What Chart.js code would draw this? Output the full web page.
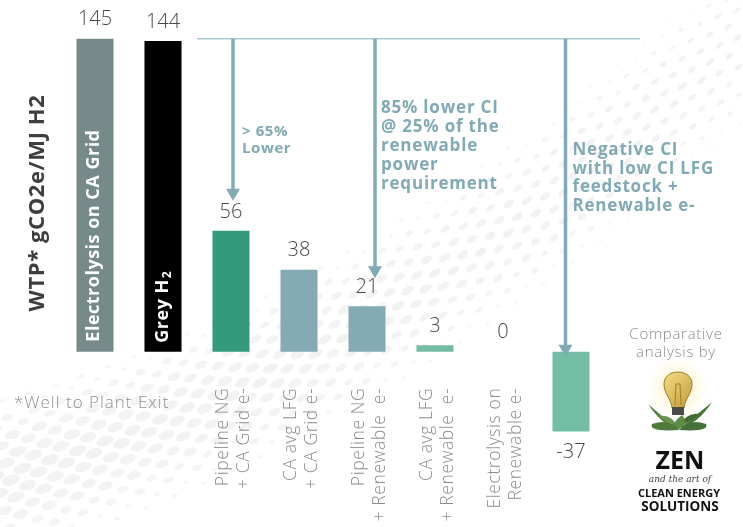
<!DOCTYPE html>
<html><head><meta charset="utf-8">
<script src="https://cdn.jsdelivr.net/npm/chart.js@4.4.1/dist/chart.umd.min.js"></script>
<style>html,body{margin:0;padding:0;background:#fff;}canvas{display:block;}</style>
</head><body>
<canvas id="c" width="743" height="527"></canvas>
<script>
// ---- data ----
const categories = [
  "Electrolysis on CA Grid",
  "Grey H2",
  ["Pipeline NG", "+ CA Grid e-"],
  ["CA avg LFG", "+ CA Grid e-"],
  ["Pipeline NG", "+ Renewable  e-"],
  ["CA avg LFG", "+ Renewable  e-"],
  ["Electrolysis on", "Renewable e-"],
  ""
];
const values = [145, 144, 56, 38, 21, 3, 0, -37];
const valueLabels = ["145", "144", "56", "38", "21", "3", "0", "-37"];
const barColors = ["#778a8a", "#000000", "#339b7b", "#84aab4", "#84aab4", "#74bda5", "#74bda5", "#74bda5"];
const yAxisTitle = "WTP* gCO2e/MJ H2";
const footnote = "*Well to Plant Exit";
const callout1 = ["> 65%", "Lower"];
const callout2 = ["85% lower CI", "@ 25% of the", "renewable", "power", "requirement"];
const callout3 = ["Negative CI", "with low CI LFG", "feedstock +", "Renewable e-"];
const logoCaption = ["Comparative", "analysis by"];

const FONT = '"Open Sans", "Noto Sans", sans-serif';

function rotText(ctx, txt, x, y, font, color, align, ls) {
  ctx.save();
  ctx.translate(x, y);
  ctx.rotate(-Math.PI / 2);
  ctx.font = font;
  ctx.letterSpacing = ls || '0px';
  ctx.fillStyle = color;
  ctx.textAlign = align;
  ctx.textBaseline = 'middle';
  ctx.fillText(txt, 0, 0);
  ctx.restore();
}

function arrow(ctx, x, y1, y2, color) {
  ctx.save();
  ctx.strokeStyle = color;
  ctx.fillStyle = color;
  ctx.lineWidth = 3.5;
  ctx.beginPath();
  ctx.moveTo(x, y1);
  ctx.lineTo(x, y2 - 10);
  ctx.stroke();
  ctx.beginPath();
  ctx.moveTo(x - 7, y2 - 12);
  ctx.lineTo(x + 7, y2 - 12);
  ctx.lineTo(x, y2);
  ctx.closePath();
  ctx.fill();
  ctx.restore();
}

const backdrop = {
  id: 'backdrop',
  beforeDraw(chart) {
    const ctx = chart.ctx;
    ctx.save();
    ctx.fillStyle = '#ffffff';
    ctx.fillRect(0, 0, chart.width, chart.height);
    // faint halftone swoosh
    const P0 = [-60, 490], P1 = [380, 390], P2 = [820, -40];
    const N = 64;
    for (let i = 0; i <= N; i++) {
      const t = i / N;
      const x = (1 - t) * (1 - t) * P0[0] + 2 * (1 - t) * t * P1[0] + t * t * P2[0];
      const y = (1 - t) * (1 - t) * P0[1] + 2 * (1 - t) * t * P1[1] + t * t * P2[1];
      const dx = 2 * (1 - t) * (P1[0] - P0[0]) + 2 * t * (P2[0] - P1[0]);
      const dy = 2 * (1 - t) * (P1[1] - P0[1]) + 2 * t * (P2[1] - P1[1]);
      const len = Math.hypot(dx, dy);
      const nx = -dy / len, ny = dx / len;
      const ang = Math.atan2(dy, dx);
      for (let k = 0; k < 11; k++) {
        const s = (k - 5) / 5;
        const off = s * (90 - 20 * t) + (i % 2) * 8;
        const f = 1 - s * s;
        const rx = (10 - 6 * t) * f;
        if (rx < 1.2) continue;
        ctx.fillStyle = 'rgba(0,0,0,' + (0.03 + 0.02 * f).toFixed(3) + ')';
        ctx.beginPath();
        ctx.ellipse(x + nx * off, y + ny * off, rx, rx * 0.55, ang, 0, Math.PI * 2);
        ctx.fill();
      }
    }
    ctx.restore();
  }
};

const overlay = {
  id: 'overlay',
  afterDatasetsDraw(chart) {
    const ctx = chart.ctx;
    const ys = chart.scales.y;
    const bars = chart.getDatasetMeta(0).data;
    const y0 = ys.getPixelForValue(0);
    const area = chart.chartArea;

    // value labels
    ctx.save();
    ctx.font = '300 20px ' + FONT;
    ctx.fillStyle = '#4a4a4a';
    ctx.textAlign = 'center';
    ctx.textBaseline = 'middle';
    bars.forEach((b, i) => {
      const ty = values[i] >= 0 ? b.y - 19 : b.y + 21;
      ctx.fillText(valueLabels[i], b.x, ty);
    });
    ctx.restore();

    // labels inside first two bars
    rotText(ctx, categories[0], bars[0].x - 1, y0 - 10, '700 18px ' + FONT, '#ffffff', 'left', '0.5px');
    ctx.save();
    ctx.translate(bars[1].x, y0 - 9);
    ctx.rotate(-Math.PI / 2);
    ctx.fillStyle = '#ffffff';
    ctx.textBaseline = 'middle';
    ctx.textAlign = 'left';
    ctx.font = '700 18px ' + FONT;
    ctx.letterSpacing = '0.5px';
    const main = categories[1].slice(0, -1);
    ctx.fillText(main, 0, 0);
    const w = ctx.measureText(main).width;
    ctx.font = '700 12px ' + FONT;
    ctx.fillText(categories[1].slice(-1), w + 1, 5);
    ctx.restore();

    // rotated category labels
    for (let i = 2; i < categories.length; i++) {
      const lab = categories[i];
      if (!Array.isArray(lab)) continue;
      const cx = bars[i].x + 3;
      lab.forEach((ln, k) => {
        rotText(ctx, ln, cx - 10.5 + k * 21, y0 + 36, '300 17.5px ' + FONT, '#8c8c8c', 'right', '0.6px');
      });
    }

    // y axis title
    rotText(ctx, yAxisTitle, 38, 203, '700 22px ' + FONT, '#3e3e3e', 'center', '0.6px');

    // footnote
    ctx.save();
    ctx.font = '300 17px ' + FONT;
    ctx.letterSpacing = '1px';
    ctx.fillStyle = '#8f8f8f';
    ctx.textAlign = 'left';
    ctx.textBaseline = 'middle';
    ctx.fillText(footnote, 14, 403);
    ctx.restore();

    // top reference line and arrows
    const topY = bars[0].y;
    const acol = '#80aab5';
    ctx.save();
    ctx.strokeStyle = '#a9cad2';
    ctx.lineWidth = 1.5;
    ctx.beginPath();
    ctx.moveTo(bars[1].x + 34, topY);
    ctx.lineTo(area.right + 35, topY);
    ctx.stroke();
    ctx.restore();

    const a1x = bars[2].x + 2, a2x = bars[4].x + 8, a3x = bars[7].x - 5.5;
    arrow(ctx, a1x, topY, bars[2].y - 30, acol);
    arrow(ctx, a2x, topY, bars[4].y - 28, acol);
    arrow(ctx, a3x, topY, y0 + 5, acol);

    ctx.save();
    ctx.fillStyle = acol;
    ctx.textAlign = 'left';
    ctx.textBaseline = 'middle';
    ctx.font = '700 15px ' + FONT;
    ctx.letterSpacing = '0.6px';
    callout1.forEach((t, k) => ctx.fillText(t, a1x + 9, 132 + k * 17));
    ctx.font = '700 17px ' + FONT;
    ctx.letterSpacing = '0.8px';
    callout2.forEach((t, k) => ctx.fillText(t, a2x + 6, 108 + k * 19));
    callout3.forEach((t, k) => ctx.fillText(t, a3x + 7, 150 + k * 18.7));
    ctx.restore();

    // logo
    ctx.save();
    ctx.textAlign = 'center';
    ctx.textBaseline = 'middle';
    ctx.font = '300 15px ' + FONT;
    ctx.letterSpacing = '0.7px';
    ctx.fillStyle = '#8a8a8a';
    ctx.fillText(logoCaption[0], 676, 335);
    ctx.fillText(logoCaption[1], 676, 353);
    ctx.letterSpacing = '0px';
    // glow
    const g = ctx.createRadialGradient(678, 388, 4, 678, 388, 32);
    g.addColorStop(0, 'rgba(255,244,205,0.9)');
    g.addColorStop(1, 'rgba(255,244,205,0)');
    ctx.fillStyle = g;
    ctx.beginPath(); ctx.arc(678, 388, 32, 0, Math.PI * 2); ctx.fill();
    // glass
    const gg = ctx.createLinearGradient(664, 372, 692, 400);
    gg.addColorStop(0, '#f3dd8a'); gg.addColorStop(1, '#c9a23e');
    ctx.fillStyle = gg;
    ctx.strokeStyle = '#9c7a2a';
    ctx.lineWidth = 1;
    ctx.beginPath();
    ctx.moveTo(672, 408);
    ctx.bezierCurveTo(671, 398, 664, 394, 664, 384);
    ctx.bezierCurveTo(664, 368, 692, 368, 692, 384);
    ctx.bezierCurveTo(692, 394, 685, 398, 684, 408);
    ctx.closePath();
    ctx.fill(); ctx.stroke();
    ctx.strokeStyle = '#a07f30';
    ctx.beginPath(); ctx.moveTo(675, 405); ctx.lineTo(676, 384); ctx.lineTo(680, 384); ctx.lineTo(681, 405); ctx.stroke();
    ctx.fillStyle = '#4a4a4a';
    ctx.fillRect(672, 407, 12, 8);
    // leaves
    const leaf = (x1, y1, cx1, cy1, cx2, cy2, x2, y2, col) => {
      ctx.fillStyle = col;
      ctx.beginPath();
      ctx.moveTo(x1, y1);
      ctx.quadraticCurveTo(cx1, cy1, x2, y2);
      ctx.quadraticCurveTo(cx2, cy2, x1, y1);
      ctx.fill();
    };
    leaf(676, 428, 655, 410, 662, 425, 648, 404, '#56813f');
    leaf(680, 428, 705, 408, 698, 424, 712, 402, '#4b7738');
    leaf(678, 428, 662, 420, 672, 414, 660, 416, '#6b9650');
    leaf(678, 428, 694, 418, 686, 412, 700, 414, '#3f6a31');
    leaf(677, 430, 668, 426, 690, 424, 682, 415, '#5f8b45');
    leaf(679, 430, 648, 432, 670, 418, 652, 424, '#4f7a3a');
    leaf(679, 430, 710, 432, 690, 418, 706, 424, '#45713a');
    // text
    ctx.fillStyle = '#111';
    ctx.font = '700 25px ' + FONT;
    ctx.fillText('ZEN', 680, 462);
    ctx.font = 'italic 9px "DejaVu Serif", serif';
    ctx.fillStyle = '#444';
    ctx.fillText('and the art of', 680, 480);
    ctx.fillStyle = '#111';
    ctx.font = '700 11px ' + FONT;
    ctx.fillText('CLEAN ENERGY', 679, 494);
    ctx.font = '700 13.5px ' + FONT;
    ctx.fillText('SOLUTIONS', 680, 507);
    ctx.restore();
  }
};

new Chart(document.getElementById('c'), {
  type: 'bar',
  data: {
    labels: categories,
    datasets: [{
      data: values,
      backgroundColor: barColors,
      borderWidth: 0,
      barPercentage: 0.545,
      categoryPercentage: 1
    }]
  },
  options: {
    responsive: false,
    devicePixelRatio: 1,
    animation: false,
    layout: { padding: { left: 61, right: 138, top: 28, bottom: 89 } },
    plugins: { legend: { display: false }, tooltip: { enabled: false } },
    scales: {
      x: { display: false },
      y: { display: false, min: -40, max: 150 }
    }
  },
  plugins: [backdrop, overlay]
});
</script>
</body></html>
